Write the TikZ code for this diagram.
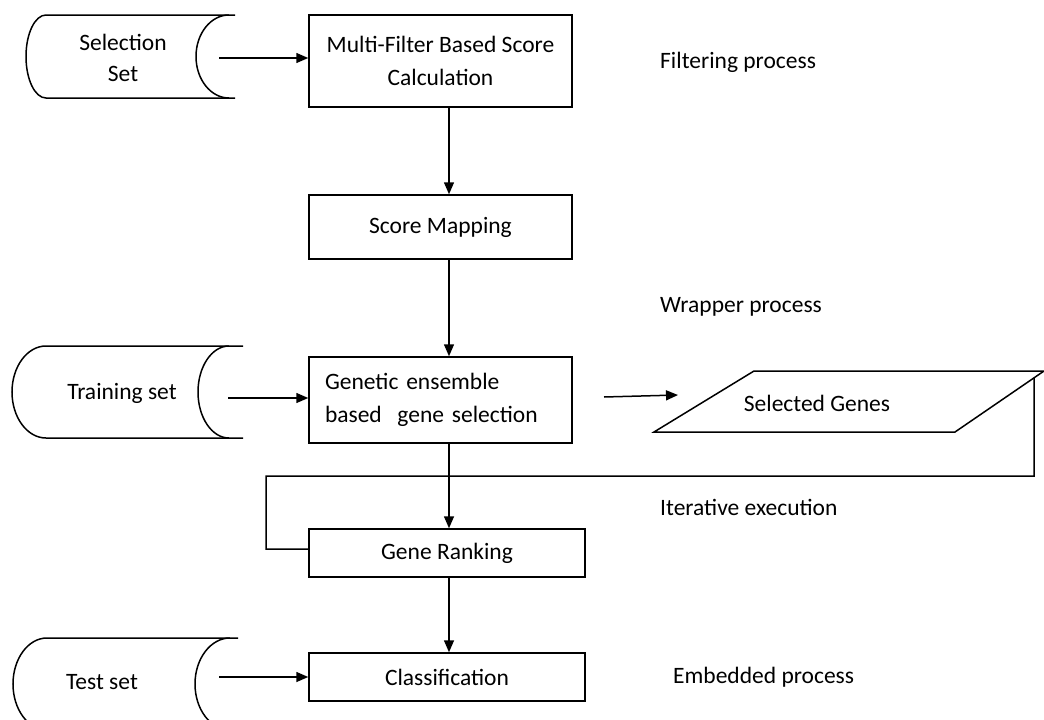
\documentclass[tikz,border=0pt]{standalone}
\usepackage{fontspec}
\setmainfont{Carlito}
\usetikzlibrary{arrows.meta,calc}
\begin{document}
\begin{tikzpicture}[x=1pt,y=-1pt,
  every node/.style={font=\fontsize{23.5}{33}\selectfont, text=black},
  ln/.style={line width=1.5pt, draw=black},
  arr/.style={ln, -{Triangle[length=12pt,width=10pt]}},
  procbox/.style={draw=black, line width=1.5pt, rectangle, inner sep=0pt, align=center},
  storetext/.style={inner sep=0pt, align=center, font=\fontsize{23.5}{31}\selectfont},
  lbl/.style={anchor=west, inner sep=0pt},
  ]
\useasboundingbox (0,0) rectangle (1044,720);
\clip (0,0) rectangle (1044,720);

% ---------- process boxes ----------
\node[procbox, minimum width=263pt, minimum height=92pt] (b1) at (440.5,61) {Multi-Filter Based Score\\Calculation};
\node[procbox, minimum width=263pt, minimum height=64pt] (b2) at (440.5,227) {Score Mapping};
\node[procbox, minimum width=263pt, minimum height=86pt, align=left, text width=231pt, inner xsep=16pt] (b3) at (440.5,400) {Genetic ensemble\\based\ \ gene selection};
\node[procbox, minimum width=276pt, minimum height=48pt] (b4) at (447,553) {Gene Ranking};
\node[procbox, minimum width=276pt, minimum height=48pt] (b5) at (447,677) {Classification};

% ---------- stored-data shapes ----------
% Selection set
\draw[ln] (235,15) -- (46,15) arc[start angle=270,end angle=90,x radius=20,y radius=41.5] -- (235,98);
\draw[ln] (229,15) arc[start angle=270,end angle=90,x radius=33,y radius=41.5];
\node[storetext] (sel) at (123,57.5) {Selection\\Set};
% Training set
\draw[ln] (243,346) -- (46,346) arc[start angle=270,end angle=90,x radius=34,y radius=46] -- (243,438);
\draw[ln] (229,346) arc[start angle=270,end angle=90,x radius=31,y radius=46];
\node[storetext] (train) at (122,393) {Training set};
% Test set
\draw[ln] (238,638) -- (47,638) arc[start angle=270,end angle=90,x radius=34,y radius=46] -- (238,730);
\draw[ln] (230,638) arc[start angle=270,end angle=90,x radius=35,y radius=46];
\node[storetext] (test) at (102,682) {Test set};

% ---------- output (parallelogram) ----------
\coordinate (p1) at (654,432);
\coordinate (p2) at (754,371);
\coordinate (p3) at (1044,371);
\coordinate (p4) at (955,432);
\draw[ln] (p1) -- (p2) -- (p3) -- (p4) -- cycle;
\node (sg) at (817,403) {Selected Genes};

% ---------- connectors ----------
\coordinate (colx) at (449,0);
\draw[arr] (b1.south -| colx) -- (b2.north -| colx);
\draw[arr] (b2.south -| colx) -- (b3.north -| colx);
\draw[arr] (b3.south -| colx) -- (b4.north -| colx);
\draw[arr] (b4.south -| colx) -- (b5.north -| colx);

\coordinate (selout) at (219,58);
\draw[arr] (selout) -- (selout -| b1.west);
\coordinate (trainout) at (228,398);
\draw[arr] (trainout) -- (trainout -| b3.west);
\coordinate (testout) at (219,677);
\draw[arr] (testout) -- (testout -| b5.west);

\coordinate (gsout) at (604,397);
\coordinate (gsin) at (678,395);
\draw[arr] (gsout) -- (gsin);

% iterative loop
\coordinate (lp0) at ($(p4)!0.888!(p3)$);
\coordinate (lpA) at (1034,476);
\coordinate (lpB) at (266,476);
\coordinate (lpC) at (266,549);
\draw[ln] (lp0) -- (lpA) -- (lpB) -- (lpC) -- (lpC -| b4.west);

% ---------- side labels ----------
\node[lbl] (l1) at (660,62) {Filtering process};
\node[lbl] (l2) at (660,307) {Wrapper process};
\node[lbl] (l3) at (660,507) {Iterative execution};
\node[lbl] (l4) at (673,677) {Embedded process};
\end{tikzpicture}
\end{document}
